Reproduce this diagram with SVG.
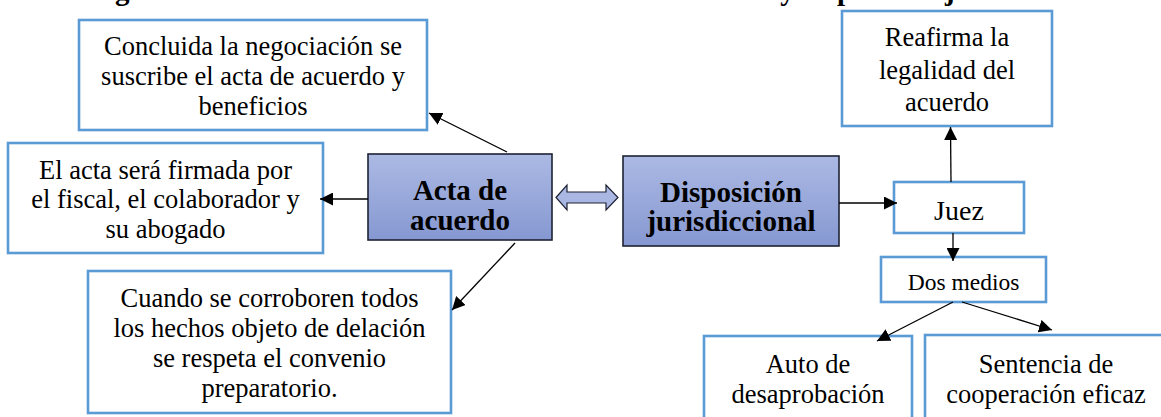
<svg xmlns="http://www.w3.org/2000/svg" width="1161" height="417" viewBox="0 0 1161 417">
<style>
text{font-family:"Liberation Serif","Times New Roman",serif;fill:#000;text-anchor:middle}
.t{font-size:26.5px}
.b{font-size:29px;font-weight:bold}
.title{font-size:29px;font-weight:bold;text-anchor:start}
.box{fill:#fff;stroke:#5b9bd5;stroke-width:2.6}
.main{fill:url(#g);stroke:#1f2233;stroke-width:1.6}
.con line{stroke:#000;stroke-width:1.3;marker-end:url(#ah)}
</style>
<defs>
<linearGradient id="g" x1="0" y1="0" x2="0" y2="1">
<stop offset="0" stop-color="#abb9e3"/>
<stop offset="1" stop-color="#8698d2"/>
</linearGradient>
<marker id="ah" viewBox="0 0 10 10" refX="10" refY="5" markerWidth="13" markerHeight="13" markerUnits="userSpaceOnUse" orient="auto">
<path d="M0,0 L10,5 L0,10 z" fill="#000"/>
</marker>
</defs>
<rect width="1161" height="417" fill="#fff"/>
<g id="title">
<text class="title" x="76" y="0" textLength="372" lengthAdjust="spacing">Organizador Gráfico N.° 3</text>
<text class="title" x="573" y="0" textLength="540" lengthAdjust="spacing">Acta de acuerdo y disposición jurisdiccional</text>
</g>
<g id="n-concluida">
<rect class="box" x="79" y="20" width="348" height="110"/>
<text class="t" x="253" y="55">Concluida la negociación se</text>
<text class="t" x="253" y="85">suscribe el acta de acuerdo y</text>
<text class="t" x="253" y="115">beneficios</text>
</g>
<g id="n-firmada">
<rect class="box" x="8" y="143" width="315" height="110"/>
<text class="t" x="165.5" y="179">El acta será firmada por</text>
<text class="t" x="165.5" y="208">el fiscal, el colaborador y</text>
<text class="t" x="165.5" y="238">su abogado</text>
</g>
<g id="n-cuando">
<rect class="box" x="88" y="271" width="363" height="142"/>
<text class="t" x="269.5" y="307">Cuando se corroboren todos</text>
<text class="t" x="269.5" y="337">los hechos objeto de delación</text>
<text class="t" x="269.5" y="367">se respeta el convenio</text>
<text class="t" x="269.5" y="397">preparatorio.</text>
</g>
<g id="n-acta">
<rect class="main" x="368" y="154" width="184" height="86"/>
<text class="b" x="460" y="200">Acta de</text>
<text class="b" x="460" y="230">acuerdo</text>
</g>
<g id="n-disposicion">
<rect class="main" x="623" y="156" width="216" height="90"/>
<text class="b" x="731" y="202">Disposición</text>
<text class="b" x="731" y="231">jurisdiccional</text>
</g>
<g id="n-reafirma">
<rect class="box" x="842" y="11" width="210" height="115"/>
<text class="t" x="947" y="46">Reafirma la</text>
<text class="t" x="947" y="79">legalidad del</text>
<text class="t" x="947" y="111">acuerdo</text>
</g>
<g id="n-juez">
<rect class="box" x="894" y="182" width="130" height="51"/>
<text x="959" y="220" style="font-size:28px">Juez</text>
</g>
<g id="n-dos">
<rect class="box" x="881" y="257" width="165" height="45"/>
<text x="963.5" y="290" style="font-size:23.5px">Dos medios</text>
</g>
<g id="n-auto">
<rect class="box" x="704" y="336" width="208" height="90"/>
<text class="t" x="808" y="373">Auto de</text>
<text class="t" x="808" y="403">desaprobación</text>
</g>
<g id="n-sentencia">
<rect class="box" x="925" y="335" width="242" height="90"/>
<text class="t" x="1046" y="373">Sentencia de</text>
<text class="t" x="1046" y="403">cooperación eficaz</text>
</g>
<g id="connectors" class="con">
<line x1="507" y1="152" x2="429" y2="113"/>
<line x1="368" y1="199" x2="320" y2="199"/>
<line x1="515" y1="243" x2="452" y2="310"/>
<line x1="839" y1="203" x2="897" y2="203"/>
<line x1="951" y1="182" x2="950.5" y2="127"/>
<line x1="953" y1="233" x2="953" y2="261"/>
<line x1="953" y1="302" x2="877" y2="341"/>
<line x1="962" y1="302" x2="1052" y2="330"/>
<path d="M556,197.5 L567,185 L567,192 L606,192 L606,185 L618,197.5 L606,210 L606,203 L567,203 L567,210 Z" fill="#a9b7e2" stroke="#1f2233" stroke-width="1.2"/>
</g>
</svg>
